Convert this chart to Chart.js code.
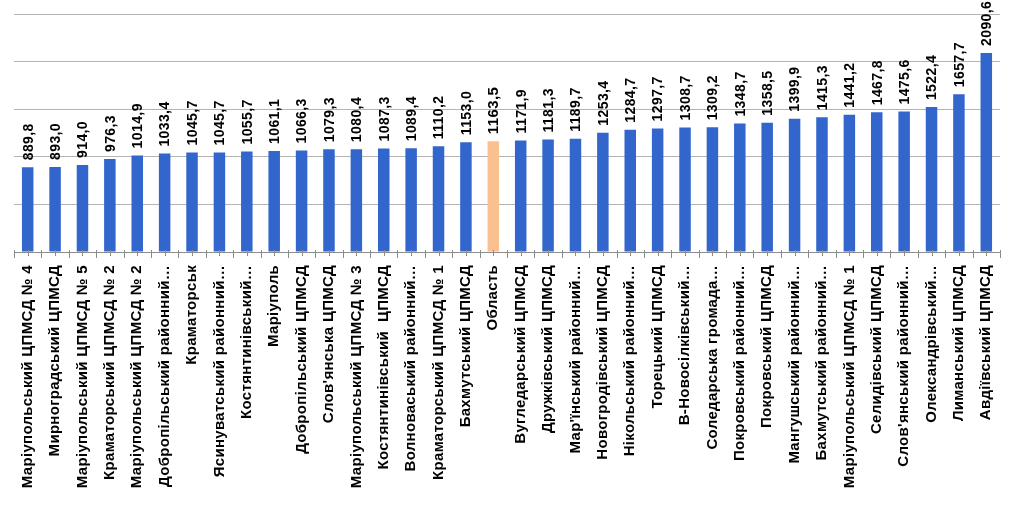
<!DOCTYPE html>
<html>
<head>
<meta charset="utf-8">
<script src="https://cdn.jsdelivr.net/npm/chart.js@4/dist/chart.umd.min.js"></script>
<style>
  html, body { margin: 0; padding: 0; background: #fff; }
  #wrap { width: 1014px; height: 514px; }
</style>
</head>
<body>
<div id="wrap"><canvas id="chart"></canvas></div>
<script>
var Names = [
  'Маріупольський ЦПМСД № 4', 'Мирноградський ЦПМСД', 'Маріупольський ЦПМСД № 5',
  'Краматорський ЦПМСД № 2', 'Маріупольський ЦПМСД № 2', 'Добропільський районний…',
  'Краматорськ', 'Ясинуватський районний…', 'Костянтинівський…', 'Маріуполь',
  'Добропільський ЦПМСД', 'Слов\'янська ЦПМСД', 'Маріупольський ЦПМСД № 3',
  'Костянтинівський  ЦПМСД', 'Волноваський районний…', 'Краматорський ЦПМСД № 1',
  'Бахмутський ЦПМСД', 'Область', 'Вугледарський ЦПМСД', 'Дружківський ЦПМСД',
  'Мар\'їнський районний…', 'Новогродівський ЦПМСД', 'Нікольський районний…',
  'Торецький ЦПМСД', 'В-Новосілківський…', 'Солeдарська громада…',
  'Покровський районний…', 'Покровський ЦПМСД', 'Мангушський районний…',
  'Бахмутський районний…', 'Маріупольський ЦПМСД № 1', 'Селидівський ЦПМСД',
  'Слов\'янський районний…', 'Олександрівський…', 'Лиманський ЦПМСД', 'Авдіївський ЦПМСД'
];
var Values = [
  889.8, 893.0, 914.0, 976.3, 1014.9, 1033.4, 1045.7, 1045.7, 1055.7, 1061.1,
  1066.3, 1079.3, 1080.4, 1087.3, 1089.4, 1110.2, 1153.0, 1163.5, 1171.9, 1181.3,
  1189.7, 1253.4, 1284.7, 1297.7, 1308.7, 1309.2, 1348.7, 1358.5, 1399.9, 1415.3,
  1441.2, 1467.8, 1475.6, 1522.4, 1657.7, 2090.6
];
var Highlight = 'Область';

var blue = '#3366CC';
var peach = '#FAC090';
var gridGray = '#B4B4B4';

var barColors = Names.map(function (n) { return n === Highlight ? peach : blue; });

// slight letter spacing for all text, like the original rendering
var spacing = {
  id: 'spacing',
  beforeDraw: function (chart) { chart.ctx.letterSpacing = '0.3px'; }
};

// value labels standing upright above each bar
var valueLabels = {
  id: 'valueLabels',
  afterDatasetsDraw: function (chart) {
    var ctx = chart.ctx;
    var meta = chart.getDatasetMeta(0);
    ctx.save();
    ctx.fillStyle = '#000';
    ctx.textAlign = 'left';
    ctx.textBaseline = 'middle';
    ctx.letterSpacing = '0.4px';
    meta.data.forEach(function (bar, i) {
      var txt = Values[i].toFixed(1).replace('.', ',');
      ctx.font = Names[i] === Highlight ? 'bold 15px "Liberation Sans"' : 'bold 14px "Liberation Sans"';
      ctx.save();
      ctx.translate(bar.x + 1, bar.y - 7);
      ctx.rotate(-Math.PI / 2);
      ctx.fillText(txt, 0, 0);
      ctx.restore();
    });
    ctx.restore();
  }
};

// tick marks on the category axis, at boundaries and centres
var axisTicks = {
  id: 'axisTicks',
  afterDraw: function (chart) {
    var ctx = chart.ctx;
    var x = chart.scales.x;
    var y0 = x.top;
    var half = (x.getPixelForValue(1) - x.getPixelForValue(0)) / 2;
    ctx.save();
    ctx.strokeStyle = '#8C8C8C';
    ctx.lineWidth = 1;
    ctx.beginPath();
    for (var i = 0; i < Names.length; i++) {
      var c = x.getPixelForValue(i);
      var b = Math.round(c - half) + 0.5;
      ctx.moveTo(b, y0 - 2);
      ctx.lineTo(b, y0 + 6);
      var m = Math.round(c) + 0.5;
      ctx.moveTo(m, y0 - 2);
      ctx.lineTo(m, y0 + 4);
      if (i === Names.length - 1) {
        var e = Math.round(c + half) + 0.5;
        ctx.moveTo(e, y0 - 2);
        ctx.lineTo(e, y0 + 6);
      }
    }
    ctx.stroke();
    ctx.restore();
  }
};

new Chart('chart', {
  type: 'bar',
  data: {
    labels: Names,
    datasets: [{
      data: Values,
      backgroundColor: barColors,
      borderWidth: 0,
      categoryPercentage: 1,
      barPercentage: 0.42
    }]
  },
  options: {
    responsive: true,
    maintainAspectRatio: false,
    animation: false,
    layout: { padding: { left: 14, right: 14, top: 14, bottom: 0 } },
    plugins: {
      legend: { display: false },
      tooltip: { enabled: false }
    },
    scales: {
      x: {
        grid: { display: false, tickLength: 6 },
        border: { display: true, color: '#8C8C8C', width: 1 },
        ticks: {
          autoSkip: false,
          minRotation: 90,
          maxRotation: 90,
          padding: 7,
          color: '#000',
          font: { family: '"Liberation Sans"', size: 15, weight: 'bold' }
        },
        afterFit: function (scale) { scale.height = 262; }
      },
      y: {
        min: 0,
        max: 2500,
        ticks: { display: false, stepSize: 500 },
        grid: { color: gridGray, lineWidth: 1, drawTicks: false },
        border: { display: false },
        afterFit: function (scale) { scale.width = 0; }
      }
    }
  },
  plugins: [spacing, valueLabels, axisTicks]
});
</script>
</body>
</html>
